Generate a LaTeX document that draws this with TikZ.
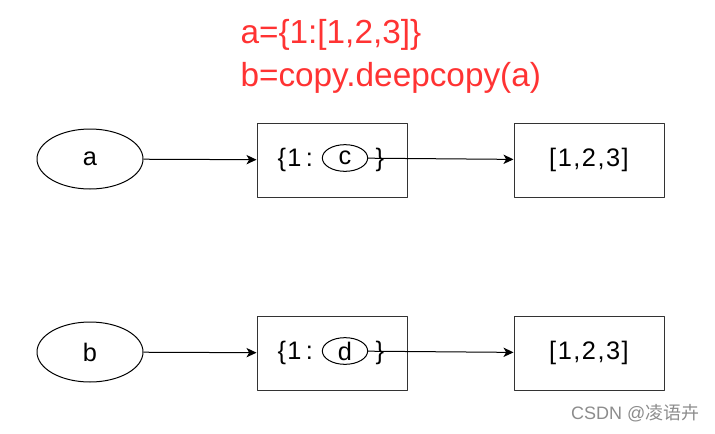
\documentclass[tikz,border=0pt]{standalone}
\usepackage{fontspec}
\setmainfont{Liberation Sans}
\newfontfamily\cjk{Noto Sans CJK SC}
\usetikzlibrary{arrows.meta,shapes.geometric}
\definecolor{codered}{RGB}{255,51,51}
\begin{document}
\begin{tikzpicture}[x=0.75pt,y=-0.75pt,line join=round,line width=0.75pt,
	>={Stealth[length=7.5pt,width=7pt,inset=2pt]},
	big/.style={font=\fontsize{19}{21}\selectfont\addfontfeature{LetterSpace=6}},
	var/.style={ellipse,draw,minimum width=79.5pt,minimum height=45pt,big},
	objbox/.style={draw=black!80,minimum width=112.5pt,minimum height=55.5pt,big},
	ref/.style={ellipse,draw,inner sep=0pt,minimum width=34pt,minimum height=20pt,big},
	txt/.style={inner sep=0pt,big},
	code/.style={anchor=base west,inner sep=0pt,text=codered,font=\fontsize{25}{30}\selectfont}]
	\useasboundingbox (0,0) rectangle (715,433);
	\node[code] (code1) at (240,43) {a=\{1:[1,2,3]\}};
	\node[code] (code2) at (240,86) {b=copy.deepcopy(a)};
	\foreach \n/\m/\y in {a/c/159,b/d/352}{
		\node[var] (\n) at (90,\y) {\n};
		\node[objbox] (\n box) at (332,\y+1) {};
		\node[objbox] (\n val) at (589,\y+1) {[1,2,3]};
		\node[txt,anchor=west] (\n key) at (277,\y+1) {\{1\,:};
		\node[ref] (\m) at (345,\y-1) {\m};
		\node[txt,anchor=west] (\n end) at (375,\y+1) {\}};
		\draw[->] (\n) -- (\n box);
		\draw[->] (\m) -- (\n val);
	}
	\node[anchor=east,inner sep=0pt,text=black!45,font=\fontsize{13.5}{15}\selectfont] (mark) at (700,413) {CSDN @{\cjk 凌语卉}};
\end{tikzpicture}
\end{document}
